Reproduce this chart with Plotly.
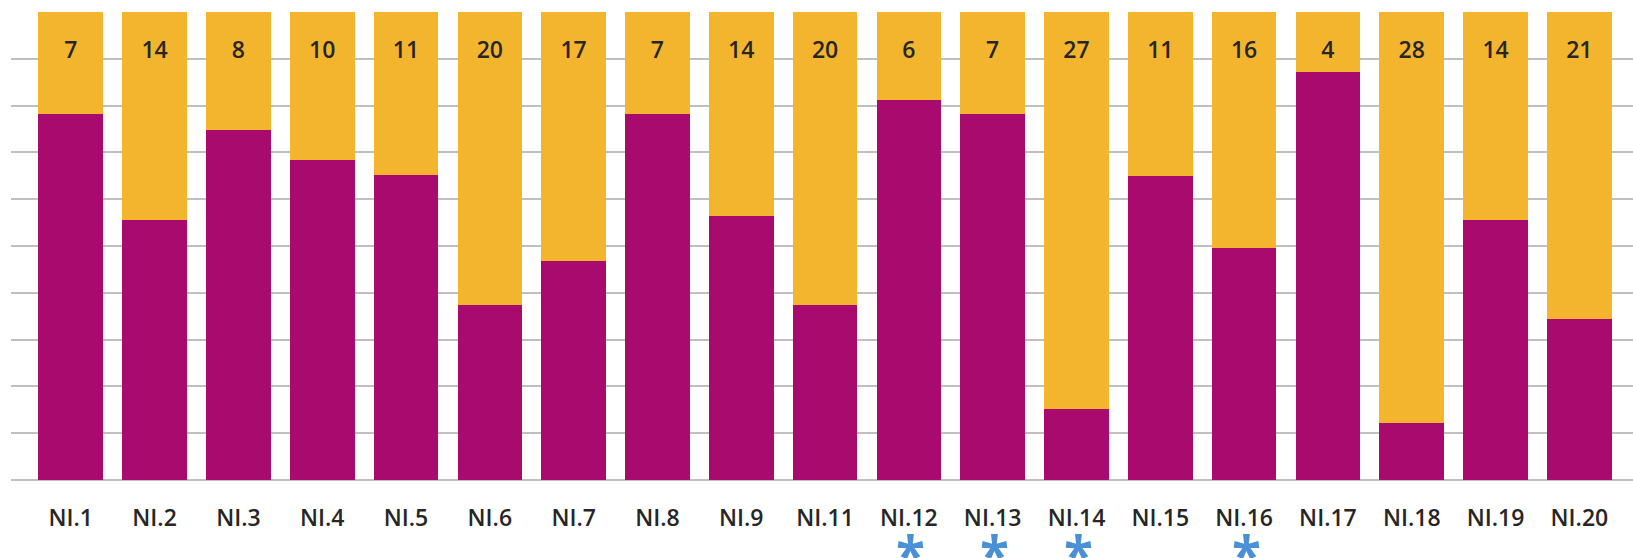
import plotly.graph_objects as go

categories = ["NI.1", "NI.2", "NI.3", "NI.4", "NI.5", "NI.6", "NI.7", "NI.8", "NI.9", "NI.11",
              "NI.12", "NI.13", "NI.14", "NI.15", "NI.16", "NI.17", "NI.18", "NI.19", "NI.20"]
# share (%) of each bar taken by the lower (magenta) and upper (orange) segments
magenta_pct = [78.1, 55.6, 74.7, 68.3, 65.2, 37.4, 46.7, 78.1, 56.5, 37.4,
               81.2, 78.1, 15.2, 65.0, 49.6, 87.1, 12.2, 55.6, 34.5]
orange_pct = [21.9, 44.4, 25.3, 31.7, 34.8, 62.6, 53.3, 21.9, 43.5, 62.6,
              18.8, 21.9, 84.8, 35.0, 50.4, 12.9, 87.8, 44.4, 65.5]
orange_counts = [7, 14, 8, 10, 11, 20, 17, 7, 14, 20, 6, 7, 27, 11, 16, 4, 28, 14, 21]
starred = ["NI.12", "NI.13", "NI.14", "NI.16"]

MAGENTA = "#a90a6d"
ORANGE = "#f4b52e"
TEXT = "#262626"
STAR = "#4a90d4"
FONT = "Open Sans"

fig = go.Figure()
fig.add_trace(go.Bar(x=categories, y=magenta_pct, marker=dict(color=MAGENTA, line=dict(width=0)),
                     hoverinfo="skip", showlegend=False))
fig.add_trace(go.Bar(x=categories, y=orange_pct, marker=dict(color=ORANGE, line=dict(width=0)),
                     hoverinfo="skip", showlegend=False))

label_y = 91.4
fig.add_trace(go.Scatter(x=categories, y=[label_y] * len(categories), mode="text",
                         text=[str(v) for v in orange_counts], textposition="middle center",
                         textfont=dict(family=FONT, size=23, color=TEXT, weight=600),
                         hoverinfo="skip", showlegend=False))

for c in starred:
    fig.add_annotation(x=c, y=0, xref="x", yref="paper", text="*", showarrow=False,
                       yanchor="top", yshift=-36, xshift=2,
                       font=dict(family=FONT, size=53, color=STAR, weight=700))

fig.update_layout(
    width=1633, height=558,
    margin=dict(l=11, r=0, t=12, b=78),
    barmode="stack", bargap=0.229,
    plot_bgcolor="white", paper_bgcolor="white",
    font=dict(family=FONT, color=TEXT),
    xaxis=dict(type="category", range=[-0.713, 18.64], showgrid=False, zeroline=False,
               showline=False, ticks="", ticklabelstandoff=22, automargin=False,
               tickfont=dict(family=FONT, size=23, color=TEXT, weight=600)),
    yaxis=dict(range=[0, 100], dtick=10, showgrid=True, gridcolor="#c0c0c0", gridwidth=1.5,
               zeroline=True, zerolinecolor="#c0c0c0", zerolinewidth=2,
               showticklabels=False, ticks="", showline=False, automargin=False),
)

fig.write_html("out.html", config={"displayModeBar": False},
               post_script="document.body.style.margin='0';document.body.style.overflow='hidden';")
